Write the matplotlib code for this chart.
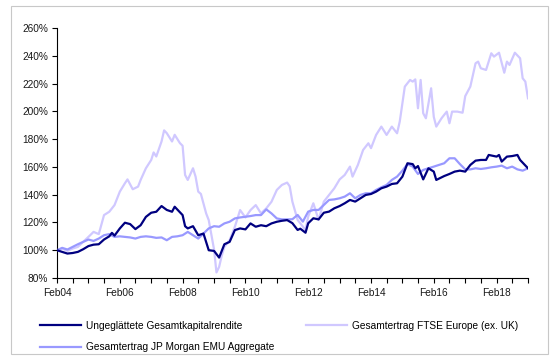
import pandas as pd
from matplotlib import pyplot as plt
from matplotlib import dates as mdates
from matplotlib.patches import Rectangle
from matplotlib.ticker import FixedLocator, FuncFormatter


# Monthly index performance, Feb 2004 = 100%
# (months counted from Feb 2004, value in percent)
kapitalMonths = [0, 2, 4, 6, 8, 10, 12, 14, 16, 18, 20, 21, 22, 24, 26, 28, 30, 32, 34, 36,
                 38, 40, 42, 44, 45, 48, 49, 50, 52, 54, 56, 58, 60, 62, 64, 66, 68, 70, 72, 74,
                 76, 78, 80, 82, 84, 86, 88, 90, 92, 93, 95, 96, 98, 100, 102, 104, 106, 108, 110,
                 112, 114, 116, 118, 120, 122, 124, 126, 128, 130, 132, 134, 136, 137, 138, 140,
                 142, 144, 145, 148, 150, 152, 154, 156, 158, 160, 162, 164, 165, 168, 169, 170,
                 172, 174, 176, 177, 180]
kapitalValues = [100, 98.8, 97.6, 98, 98.8, 100.7, 103, 104, 104.3, 107.7, 110, 112.5, 110.5,
                 115.7, 119.8, 118.8, 115.2, 118, 124, 127, 127.7, 131.8, 129, 127.7, 131.3,
                 125.3, 117.3, 115.7, 117.3, 110.8, 112, 100, 99.5, 94.7, 104.3, 106, 114.5,
                 115.7, 115, 119.3, 116.9, 118, 117.3, 119.3, 120.5, 121.2, 121.7, 119.5, 114.6,
                 115.5, 112.6, 119.4, 123, 122.2, 127, 127.8, 130.2, 131.8, 133.8, 136.2, 135,
                 137.4, 139.8, 140.5, 142.2, 144.6, 145.8, 147.7, 148.2, 153, 162.6, 162, 159,
                 160.6, 151, 159, 156.6, 150.6, 153.4, 154.9, 156.6, 157.3, 156.6, 161.4, 164.5,
                 165, 165, 168.6, 167.4, 168.6, 163.8, 167.4, 167.8, 168.6, 165, 159]

ftseMonths = [0, 2, 4, 6, 8, 10, 12, 14, 16, 18, 20, 22, 24, 26, 27, 29, 31, 32, 34, 36, 37,
              38, 40, 41, 42, 44, 45, 47, 48, 49, 50, 52, 53, 54, 55, 57, 58, 60, 61, 62, 63,
              64, 66, 68, 70, 72, 74, 76, 78, 80, 82, 84, 86, 88, 89, 90, 92, 94, 95, 96, 98,
              100, 102, 104, 106, 108, 110, 112, 113, 115, 117, 119, 120, 122, 124, 126, 128,
              130, 131, 133, 135, 136, 137, 138, 139, 140, 141, 143, 144, 145, 147, 149, 150,
              151, 153, 155, 156, 158, 160, 161, 162, 164, 166, 167, 169, 171, 172, 173, 175,
              177, 178, 179, 180]
ftseValues = [100, 101.2, 99.5, 101.2, 102.4, 106, 109.6, 113.2, 111.6, 125.3, 127.7, 132.5,
              142.2, 148.2, 151, 143.9, 145.8, 150.6, 159, 165, 170.4, 167.5, 178.3, 186.3,
              184.3, 178.3, 183.1, 177.1, 175.2, 154.2, 150.6, 159, 153, 142.2, 140.5, 126.5,
              121.7, 100.5, 84, 88, 96, 102.4, 107.2, 116.9, 128.9, 123.6, 128.9, 132.5, 126.5,
              130.1, 134.9, 143.4, 147, 148.7, 146, 135, 121.8, 117, 114.6, 124.2, 133.8, 121.8,
              135, 139.8, 144.6, 151, 154.2, 160.2, 153, 161.4, 172.2, 177, 173.5, 183, 189,
              183, 189, 184.2, 192.6, 217.8, 222.6, 221.4, 223, 202.2, 222.6, 198.6, 195, 216.6,
              196, 189, 195, 199.8, 191.4, 199.8, 199.8, 199, 211, 217.8, 234.6, 235.8, 231,
              229.8, 241.8, 239.4, 242.2, 227.8, 235.8, 233.4, 242.2, 238.2, 223.8, 221.4, 209.4]

jpmMonths = list(range(0, 181, 2))
jpmValues = [100, 101.7, 100.5, 102.4, 104.3, 106, 107.7, 106.7, 108.4, 110.8, 111.6, 109.6,
             110, 109.6, 109.2, 108.4, 109.6, 110, 109.6, 108.9, 109.2, 107.2, 109.6, 110,
             110.8, 113.2, 110.8, 108.4, 112, 115.7, 117.3, 116.9, 119.3, 120.5, 122.9, 123.6,
             124.1, 124.6, 125.3, 125.3, 129.4, 126.5, 122.9, 122.2, 122.2, 122.3, 125.4, 120.6,
             127.8, 129, 129, 132.6, 136.2, 136.6, 137.4, 138.6, 141, 137.4, 139.8, 141, 141,
             143.4, 145.3, 147, 150.6, 153, 157.3, 162, 160.2, 154.9, 157.8, 159, 160.2, 161.4,
             162.6, 166.2, 166.2, 162, 158.2, 158.2, 159, 158.5, 159, 159.7, 160.2, 160.9, 159,
             160.2, 158.2, 157.3, 159]

yTicks = list(range(80, 261, 20))
xTickLabels = ['Feb04', 'Feb06', 'Feb08', 'Feb10', 'Feb12', 'Feb14', 'Feb16', 'Feb18']

allDates = pd.date_range('2004-02-01', periods=181, freq='MS')


def toDates(months):
    return allDates[months]


plt.rcParams['font.family'] = ['Liberation Sans', 'DejaVu Sans']
plt.rcParams['font.size'] = 7.3

fig = plt.figure(figsize=(5.5, 3.56), dpi=100)
fig.patch.set_facecolor('white')
ax = fig.add_axes([57 / 550, 1 - 278 / 356, 471 / 550, 250 / 356])

ax.plot(toDates(ftseMonths), ftseValues, color='#d0c8ff', lw=1.6,
        label='Gesamtertrag FTSE Europe (ex. UK)', zorder=2)
ax.plot(toDates(jpmMonths), jpmValues, color='#9999ff', lw=1.6,
        label='Gesamtertrag JP Morgan EMU Aggregate', zorder=3)
ax.plot(toDates(kapitalMonths), kapitalValues, color='#000080', lw=1.6,
        label='Ungeglättete Gesamtkapitalrendite', zorder=4)

ax.set_xlim(allDates[0], allDates[-1])
ax.set_ylim(80, 260)
ax.set_yticks(yTicks)
ax.yaxis.set_major_formatter(FuncFormatter(lambda v, p: '%d%%' % v))

# Labels every two years, small ticks every half year
ax.set_xticks(allDates[0:169:24])
ax.set_xticklabels(xTickLabels)
ax.xaxis.set_minor_locator(FixedLocator([mdates.date2num(d) for d in allDates[0::6]]))

ax.tick_params(axis='both', which='both', direction='out', length=3.5, width=0.8,
               colors='black', labelcolor='#1a1a1a')
ax.tick_params(axis='x', pad=4)
ax.tick_params(axis='y', pad=3)

for side in ['top', 'right']:
    ax.spines[side].set_visible(False)
for side in ['left', 'bottom']:
    ax.spines[side].set_linewidth(0.8)
ax.set_facecolor('white')

handles, labels = ax.get_legend_handles_labels()
order = [2, 1, 0]
fig.legend([handles[i] for i in order], [labels[i] for i in order],
           loc='upper left', bbox_to_anchor=(40 / 550, 1 - 321 / 356), ncol=2,
           frameon=False, handlelength=4.0, handletextpad=0.5, columnspacing=3.2,
           labelspacing=1.1, borderpad=0, borderaxespad=0)

# Thin frame around the whole chart
fig.patches.append(Rectangle((11 / 550, 1 - 354 / 356), 537 / 550, 348 / 356,
                             transform=fig.transFigure, fill=False,
                             edgecolor='#c8c8c8', lw=0.8))

plt.savefig('out.png', dpi=100)
